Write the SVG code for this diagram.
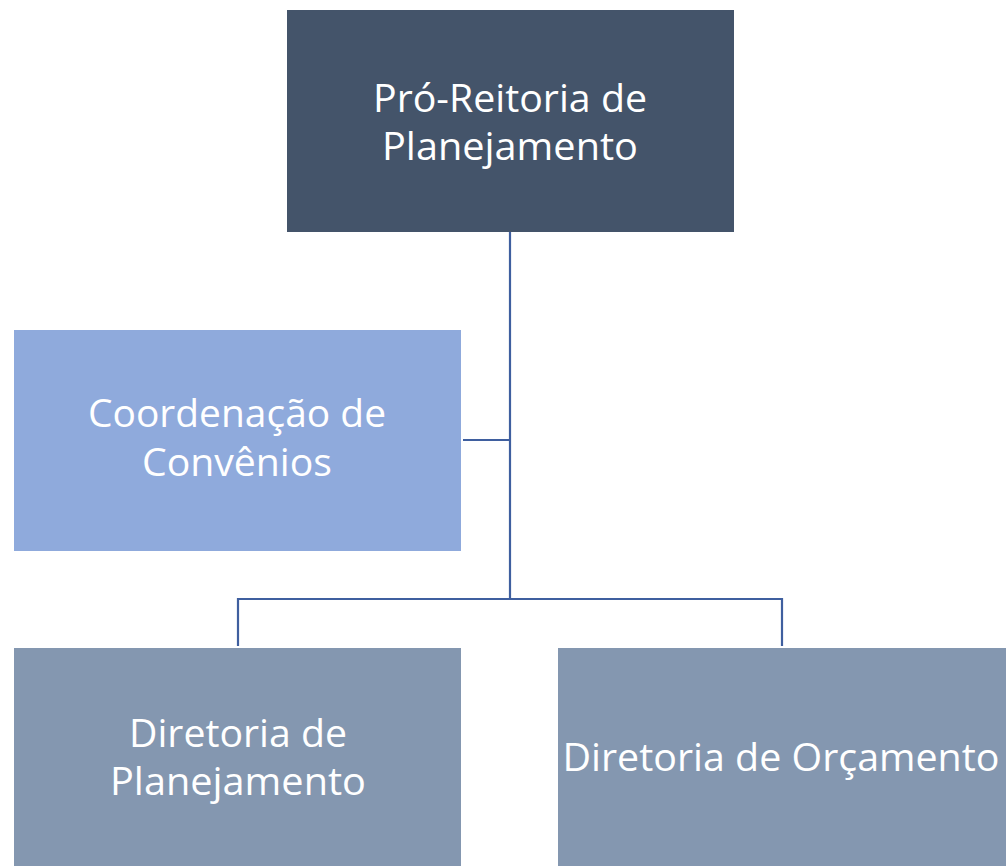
<svg xmlns="http://www.w3.org/2000/svg" width="1006" height="866" viewBox="0 0 1006 866">
<style>
.t{font-family:"Open Sans","Noto Sans","Liberation Sans",sans-serif;font-size:38px;fill:#ffffff;text-anchor:middle}
.c{fill:none;stroke:#3F5F9F;stroke-width:2.2}
</style>
<rect width="1006" height="866" fill="#ffffff"/>
<g id="connectors">
<path class="c" d="M510,232 V599"/>
<path class="c" d="M463,440 H510"/>
<path class="c" d="M238,646 V599 H782 V646"/>
</g>
<g id="n-pro">
<rect x="287" y="10" width="447" height="222" fill="#44546A"/>
<text class="t" x="510" y="112" textLength="274" lengthAdjust="spacingAndGlyphs">Pró-Reitoria de</text>
<text class="t" x="510" y="160" textLength="256" lengthAdjust="spacingAndGlyphs">Planejamento</text>
</g>
<g id="n-coord">
<rect x="14" y="330" width="447" height="221" fill="#8FAADC"/>
<text class="t" x="237" y="427" textLength="298" lengthAdjust="spacingAndGlyphs">Coordenação de</text>
<text class="t" x="237" y="476" textLength="190" lengthAdjust="spacingAndGlyphs">Convênios</text>
</g>
<g id="n-dirplan">
<rect x="14" y="648" width="447" height="218" fill="#8497B0"/>
<text class="t" x="238" y="747" textLength="218" lengthAdjust="spacingAndGlyphs">Diretoria de</text>
<text class="t" x="238" y="795" textLength="256" lengthAdjust="spacingAndGlyphs">Planejamento</text>
</g>
<g id="n-dirorc">
<rect x="558" y="648" width="448" height="218" fill="#8497B0"/>
<text class="t" x="781" y="771" textLength="437" lengthAdjust="spacingAndGlyphs">Diretoria de Orçamento</text>
</g>
</svg>
